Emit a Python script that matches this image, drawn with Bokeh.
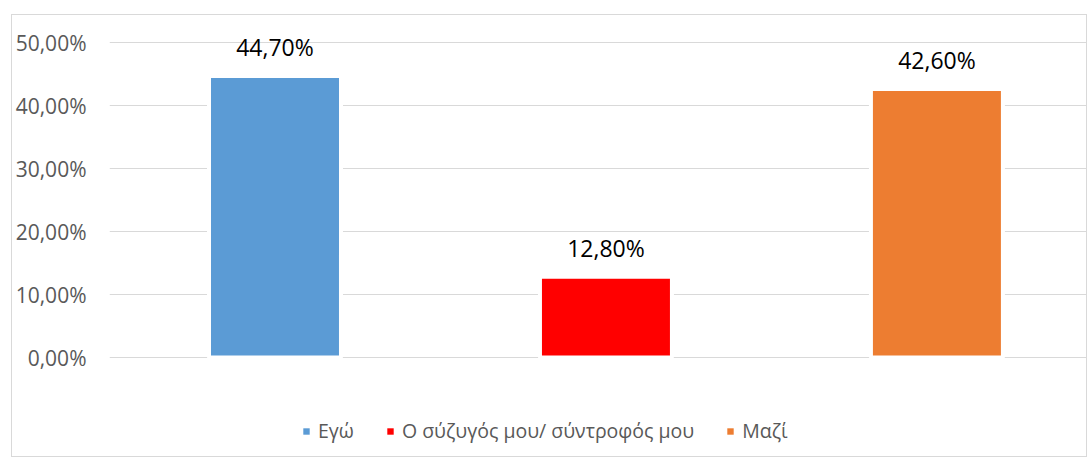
from bokeh.plotting import figure
from bokeh.models import ColumnDataSource, FixedTicker, CustomJSTickFormatter, Legend, LegendItem, Range1d
from bokeh.core.properties import value
from bokeh.embed import file_html
from bokeh.resources import INLINE

categories = ["Εγώ", "Ο σύζυγός μου/ σύντροφός μου", "Μαζί"]
shares = [0.447, 0.128, 0.426]
colors = ["#5b9bd5", "#ff0000", "#ed7d31"]
y_ticks = [0.0, 0.1, 0.2, 0.3, 0.4, 0.5]

FONT = "Open Sans"
labels = [f"{v * 100:.2f}".replace(".", ",") + "%" for v in shares]
xs = [i + 0.5 for i in range(len(categories))]

src = ColumnDataSource(dict(x=xs, top=shares, color=colors, label=labels))

PX = 630.0  # pixels per unit on y
p = figure(width=1076, height=443, output_backend="svg", toolbar_location=None,
           x_range=Range1d(0, 2.958), y_range=Range1d(-101 / PX, 0.5 + 27 / PX),
           min_border_left=97, min_border_right=0, min_border_top=0, min_border_bottom=0)
p.margin = (14, 0, 0, 11)
p.styles = {"border": "1px solid #d9d9d9"}
p.outline_line_color = None
p.background_fill_color = "white"
p.border_fill_color = "white"

p.xaxis.visible = False
p.xgrid.visible = False
p.yaxis.ticker = FixedTicker(ticks=y_ticks)
p.ygrid.ticker = FixedTicker(ticks=y_ticks)
p.ygrid.grid_line_color = "#d9d9d9"
p.ygrid.grid_line_width = 1
p.yaxis.formatter = CustomJSTickFormatter(code="return (tick*100).toFixed(2).replace('.', ',') + '%';")
p.yaxis.axis_line_color = None
p.yaxis.major_tick_line_color = None
p.yaxis.minor_tick_line_color = None
p.yaxis.major_tick_out = 0
p.yaxis.major_tick_in = 0
p.yaxis.major_label_standoff = 23
p.yaxis.major_label_text_font = FONT
p.yaxis.major_label_text_font_size = "21px"
p.yaxis.major_label_text_color = "#595959"

p.vbar(x="x", top="top", bottom=0, width=132 / 331, fill_color="color",
       line_color="white", line_width=4, source=src)

p.text(x="x", y="top", text="label", source=src, text_align="center",
       text_baseline="middle", y_offset=-29, text_font=value(FONT),
       text_font_size="23px", text_color="#000000")

# zero-height bars: used only as legend swatches
swatch = p.vbar(x="x", top=0, bottom=0, width=0.01, fill_color="color",
                line_color=None, source=src)
items = [LegendItem(label=cat, renderers=[swatch], index=i) for i, cat in enumerate(categories)]

legend = Legend(items=items, orientation="horizontal", location=(193, 14),
                glyph_width=8, glyph_height=8, label_standoff=8, spacing=32,
                padding=0, margin=0, border_line_color=None, background_fill_alpha=0,
                label_text_font=FONT, label_text_font_size="19.5px",
                label_text_color="#595959")
p.add_layout(legend, "center")

open("out.html", "w").write(file_html(p, INLINE))
